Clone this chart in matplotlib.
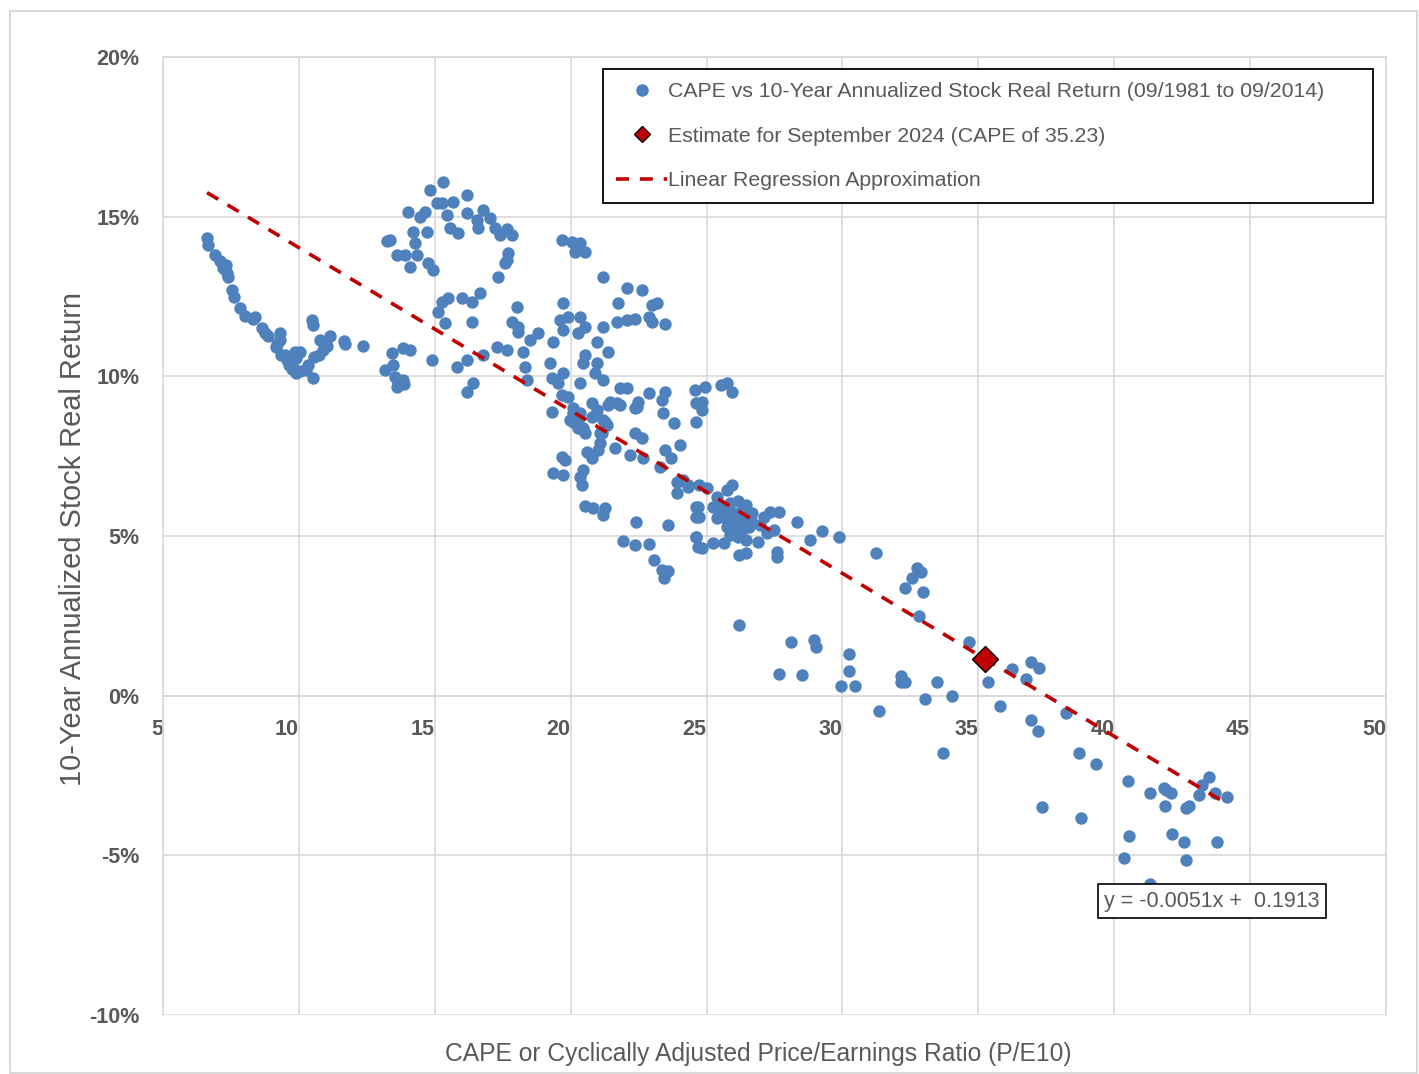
import numpy as np
import matplotlib.pyplot as plt
from matplotlib.lines import Line2D
from matplotlib.patches import Rectangle
from matplotlib.ticker import FuncFormatter

plt.rcParams['font.family'] = ['Liberation Sans', 'DejaVu Sans']

# CAPE (x) and 10-year annualized real return in % (y)
cape = [
    # low CAPE arm
    6.62, 6.65, 6.9, 7.1, 7.2, 7.3, 7.4, 7.55, 7.6, 7.85, 8.0, 8.3, 8.4, 8.65, 8.75, 8.85,
    9.2, 9.3, 9.15, 9.35, 9.55, 9.65, 9.75, 9.9, 10.05, 9.9, 10.05, 10.25, 10.33, 10.48,
    10.5, 10.5, 10.55, 10.75, 10.9, 11.05, 10.77, 11.15, 11.65, 11.7, 12.35,
    7.35, 9.3, 9.49, 9.74, 9.85,
    # 13 - 18.5
    15.29, 14.82, 16.18, 15.66, 15.07, 15.26, 14.63, 14.45, 14.0, 15.44, 16.18, 16.76, 16.54,
    17.02, 16.58, 17.2, 15.55, 15.85, 17.65, 17.83, 17.4, 14.19, 14.7, 13.35, 14.26, 17.68,
    17.65, 17.57, 13.6, 13.9, 14.34, 14.74, 14.93, 14.08, 17.32, 13.25,
    16.65, 15.99, 15.48, 15.26, 16.36, 15.11, 15.37, 16.36, 18.01, 17.83, 18.05, 18.05,
    13.42, 13.82, 14.08, 13.16, 13.46, 13.53, 13.64, 13.82, 13.6, 13.86, 14.89, 15.81,
    16.18, 16.4, 16.18, 16.76, 17.28, 17.65, 18.24, 18.31, 18.38, 18.79, 18.49,
    # 19 - 25
    19.67, 20.04, 20.33, 20.15, 20.51, 21.18, 22.06, 22.61, 21.73, 23.01, 23.16, 19.71,
    19.6, 19.89, 20.33, 20.51, 19.71, 20.26, 21.18, 21.69, 22.06, 22.35, 22.9, 22.98, 23.46,
    19.34, 20.96, 21.36, 20.51, 20.44, 20.96, 20.88, 21.18, 20.33, 19.23, 19.3, 19.52,
    19.71, 19.67, 19.89, 19.3, 21.8, 22.06, 21.43, 21.69, 22.9, 23.46, 23.35, 22.46, 22.35,
    23.38, 23.82, 24.56, 24.63, 24.63, 20.07, 19.96, 20.26, 20.44, 20.77, 20.96, 20.77,
    21.18, 21.32, 21.07, 22.35,
    20.07, 20.33, 20.07, 20.26, 20.51, 21.36, 21.8, 22.43, 21.25, 21.14, 21.07, 20.59,
    20.77, 20.99, 21.62, 22.17, 22.61, 22.65, 23.46, 23.71, 23.27, 24.01, 23.9, 23.9, 24.3,
    19.67, 19.78, 19.34, 19.71, 20.44, 20.33, 20.4, 20.51, 20.81, 21.25, 21.18, 22.39,
    23.57, 21.91, 22.35, 22.87, 23.05, 23.35, 23.57, 23.42, 24.63, 24.63, 24.63, 24.67,
    # 24 - 30 cluster
    24.93, 25.55, 25.77, 25.92, 24.82, 24.82, 24.12, 24.3, 24.74, 25.0, 25.37, 25.74,
    25.92, 24.67, 24.74, 25.22, 25.4, 25.66, 25.85, 25.96, 26.21, 26.47, 26.69, 25.74,
    26.03, 26.32, 26.58, 24.63, 24.82, 25.22, 25.66, 26.14, 26.47, 26.88, 26.21, 26.47,
    26.95, 27.13, 27.32, 27.68, 27.24, 27.5, 27.61, 27.61, 28.31, 28.79, 29.23, 29.89,
    25.48, 26.1, 25.77, 26.25, 25.96, 26.4, 25.55, 26.14, 26.62, 25.88,
    # high CAPE
    31.25, 32.76, 32.9, 32.57, 32.32, 32.98, 32.83, 34.67, 28.09, 28.97, 29.04, 30.26,
    27.65, 28.53, 30.26, 29.96, 30.48, 32.17, 32.17, 32.32, 33.49, 35.37, 33.05, 34.04,
    31.36, 35.81, 36.25, 36.76, 36.95, 37.24, 36.95, 26.21, 33.71,
    37.2, 37.35, 38.23, 38.71, 38.79, 39.34, 40.51, 40.55, 40.37, 41.32, 41.32, 41.84,
    41.88, 41.91, 42.1, 42.13, 42.65, 42.76, 42.57, 42.65, 43.13, 43.24, 43.49, 43.71,
    43.79, 44.15,
]
real_return = [
    14.34, 14.12, 13.8, 13.6, 13.4, 13.5, 13.1, 12.7, 12.5, 12.15, 11.9, 11.8, 11.85, 11.5,
    11.35, 11.27, 11.0, 11.35, 10.93, 10.68, 10.52, 10.37, 10.24, 10.1, 10.77, 10.58, 10.18,
    10.2, 10.37, 11.75, 11.6, 9.96, 10.62, 10.68, 10.84, 10.96, 11.15, 11.27, 11.12, 11.02,
    10.96,
    13.25, 11.15, 10.68, 10.43, 10.77,
    16.1, 15.85, 15.69, 15.47, 15.44, 15.44, 15.16, 15.0, 15.16, 15.06, 15.13, 15.22, 14.9,
    14.97, 14.65, 14.65, 14.65, 14.5, 14.6, 14.44, 14.44, 14.53, 14.53, 14.28, 14.19, 13.85,
    13.65, 13.56, 13.81, 13.81, 13.81, 13.56, 13.34, 13.44, 13.12, 14.25,
    12.62, 12.46, 12.46, 12.34, 12.34, 12.0, 11.68, 11.71, 12.18, 11.71, 11.56, 11.4,
    10.74, 10.9, 10.84, 10.21, 10.37, 9.99, 9.8, 9.9, 9.68, 9.77, 10.52, 10.3,
    10.52, 9.8, 9.52, 10.68, 10.93, 10.84, 10.77, 10.3, 9.9, 11.37, 11.15,
    14.28, 14.22, 14.19, 13.9, 13.9, 13.12, 12.78, 12.72, 12.31, 12.25, 12.31, 12.31,
    11.78, 11.87, 11.87, 11.56, 11.46, 11.37, 11.56, 11.71, 11.78, 11.81, 11.87, 11.71, 11.65,
    11.09, 11.09, 10.77, 10.68, 10.43, 10.43, 10.12, 9.9, 9.8, 10.43, 9.96, 9.8,
    10.12, 9.43, 9.36, 8.89, 9.65, 9.65, 9.21, 9.18, 9.49, 9.52, 9.27, 9.21, 9.02,
    8.86, 8.55, 9.58, 9.18, 8.58, 8.86, 8.64, 8.58, 8.39, 9.18, 8.96, 8.74,
    8.64, 8.49, 8.24, 8.24,
    9.02, 8.86, 8.58, 8.39, 8.24, 9.11, 9.11, 9.05, 8.58, 8.24, 7.92, 7.64,
    7.45, 7.7, 7.77, 7.55, 8.08, 7.45, 7.7, 7.45, 7.17, 7.86, 6.7, 6.36, 6.61,
    7.49, 7.39, 6.98, 6.92, 7.08, 6.86, 6.61, 5.95, 5.89, 5.89, 5.67, 5.45,
    5.36, 4.85, 4.73, 4.76, 4.26, 3.95, 3.91, 3.7, 5.92, 5.61, 4.98, 4.67,
    9.68, 9.74, 9.8, 9.52, 9.21, 8.96, 6.76, 6.55, 6.61, 6.51, 6.23, 6.45,
    6.61, 5.92, 5.61, 5.92, 5.57, 5.83, 6.04, 5.73, 5.51, 5.98, 5.73, 5.29,
    5.2, 5.2, 5.29, 4.98, 4.64, 4.79, 4.79, 4.98, 4.89, 4.82, 4.42, 4.48,
    5.36, 5.61, 5.76, 5.76, 5.1, 5.2, 4.51, 4.35, 5.45, 4.89, 5.17, 4.98,
    5.98, 5.67, 5.51, 5.76, 5.36, 5.45, 5.73, 6.1, 5.51, 5.04,
    4.48, 4.01, 3.88, 3.7, 3.38, 3.26, 2.51, 1.69, 1.69, 1.75, 1.53, 1.32,
    0.69, 0.66, 0.78, 0.31, 0.31, 0.63, 0.44, 0.44, 0.44, 0.44, -0.09, 0.0,
    -0.47, -0.31, 0.85, 0.53, 1.06, 0.88, -0.75, 2.22, -1.79,
    -1.1, -3.48, -0.53, -1.79, -3.82, -2.13, -2.66, -4.38, -5.07, -3.04, -5.89, -2.88,
    -3.45, -2.94, -3.04, -4.32, -3.51, -3.45, -4.57, -5.13, -3.1, -2.79, -2.54, -3.04,
    -4.57, -3.16,
]

# regression y = slope*x + intercept (returns as fraction)
slope = -0.0051
intercept = 0.1913

est_cape = 35.23
est_return = 1.16

blue = '#4f81bd'
red = '#c00000'
grey = '#595959'
gridc = '#d9d9d9'

fig = plt.figure(figsize=(14.19, 10.74), dpi=100)
ax = fig.add_axes([0.1149, 0.0549, 0.8618, 0.8920])

ax.scatter(cape, real_return, s=80, color=blue, zorder=3, linewidths=0)

xl = np.array([min(cape), max(cape)])
ax.plot(xl, (slope * xl + intercept) * 100, color=red, lw=2.6,
        dashes=(3.6, 3.0), zorder=4)

ax.plot([est_cape], [est_return], marker='D', markersize=13, color=red,
        markeredgecolor='black', markeredgewidth=1, linestyle='none', zorder=5)

ax.set_xlim(5, 50)
ax.set_ylim(-10, 20)
ax.set_xticks(np.arange(5, 51, 5))
ax.set_yticks(np.arange(-10, 21, 5))
ax.yaxis.set_major_formatter(FuncFormatter(lambda v, p: f"{v:.0f}%"))
ax.grid(True, color=gridc, lw=1.2, zorder=0)
ax.set_axisbelow(True)

for s in ax.spines.values():
    s.set_color(gridc)
    s.set_linewidth(1.2)
ax.spines['bottom'].set_position(('data', 0))

ax.tick_params(axis='x', length=0, pad=17, labelsize=15.5, labelcolor=grey)
ax.tick_params(axis='y', length=0, pad=17, labelsize=15.5, labelcolor=grey)
for lab in ax.get_xticklabels():
    lab.set_fontweight('bold')
    lab.set_horizontalalignment('right')
for lab in ax.get_yticklabels():
    lab.set_fontweight('bold')

ax.set_xlabel('CAPE or Cyclically Adjusted Price/Earnings Ratio (P/E10)',
              fontsize=17.7, color=grey)
ax.xaxis.set_label_coords(0.487, -0.041)
ax.xaxis.label.set_va('center')
ax.set_ylabel('10-Year Annualized Stock Real Return', fontsize=20.9, color=grey)
ax.yaxis.set_label_coords(-0.074, 0.497)
ax.yaxis.label.set_va('center')

handles = [
    Line2D([], [], marker='o', color=blue, linestyle='none', markersize=8),
    Line2D([], [], marker='D', color=red, markeredgecolor='black',
           markeredgewidth=1, linestyle='none', markersize=8),
    Line2D([], [], color=red, lw=2.6, dashes=(3.6, 3.0)),
]
labels = ['CAPE vs 10-Year Annualized Stock Real Return (09/1981 to 09/2014)',
          'Estimate for September 2024 (CAPE of 35.23)',
          'Linear Regression Approximation']
leg = ax.legend(handles, labels, loc='upper left',
                bbox_to_anchor=(0.3598, 0.8476, 0.6296, 0.14), mode='expand',
                borderaxespad=0, fontsize=15.3, labelcolor=grey, fancybox=False,
                edgecolor='black', framealpha=1, handlelength=2.4,
                handletextpad=0.05, labelspacing=1.2, borderpad=0.62)
leg.get_frame().set_linewidth(1.3)

ax.text(0.8577, 0.119, 'y = -0.0051x +  0.1913', transform=ax.transAxes,
        fontsize=15.5, color=grey, ha='center', va='center', zorder=6,
        bbox=dict(boxstyle='square,pad=0.3', fc='white', ec='black', lw=1.2))

fig.patches.append(Rectangle((10 / 1419, 1 / 1074), 1407 / 1419, 1062 / 1074,
                             transform=fig.transFigure, fill=False,
                             ec=gridc, lw=1.5))

fig.savefig('out.png', dpi=100)
